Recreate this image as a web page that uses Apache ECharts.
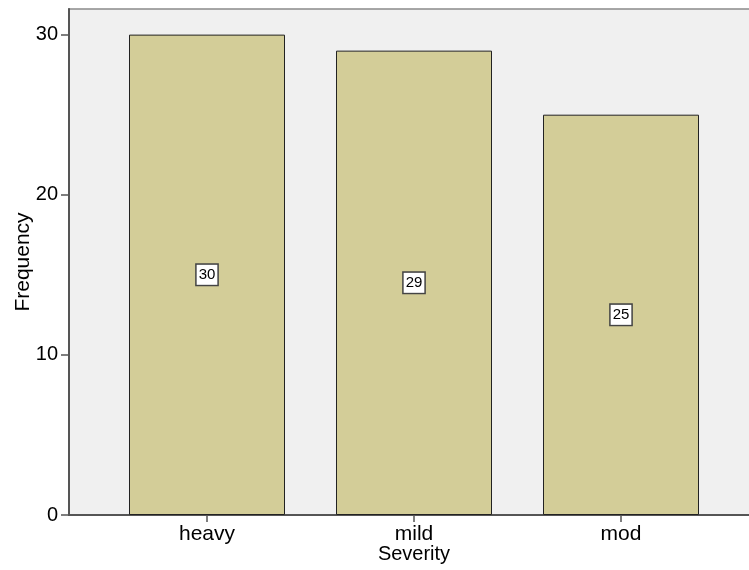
<!DOCTYPE html>
<html><head><meta charset="utf-8">
<script src="https://cdn.jsdelivr.net/npm/echarts@6/dist/echarts.min.js"></script>
<style>html,body{margin:0;padding:0;background:#fff}#c{width:749px;height:570px}</style>
</head><body><div id="c"></div>
<script>
const categories = ['heavy', 'mild', 'mod'];
const frequency = [30, 29, 25];
const yTicks = [0, 10, 20, 30];

const chart = echarts.init(document.getElementById('c'));
const font = 'Liberation Sans, Arial, sans-serif';
const yMax = 31.6;
chart.setOption({
  animation: false,
  grid: [
    {left: 69, right: -10, top: 9, bottom: 55, show: true, backgroundColor: '#f0f0f0', borderColor: '#8a8a8a', borderWidth: 1.5, outerBoundsMode: 'none', containLabel: false},
    {left: 103.5, right: 24.5, top: 9, bottom: 55, outerBoundsMode: 'none', containLabel: false}
  ],
  xAxis: [
    {gridIndex: 0, type: 'value', min: 0, max: 1, axisLabel: {show: false}, axisTick: {show: false}, splitLine: {show: false},
     axisLine: {show: true, lineStyle: {color: '#555', width: 2}}},
    {gridIndex: 1, type: 'category', data: categories, boundaryGap: true,
     axisLine: {show: false},
     axisTick: {show: true, alignWithLabel: true, length: 7, lineStyle: {color: '#555', width: 1.5}},
     axisLabel: {color: '#000', fontSize: 21, fontFamily: font, margin: 9},
     name: 'Severity', nameLocation: 'middle', nameGap: 29, nameMoveOverlap: false,
     nameTextStyle: {color: '#000', fontSize: 20, fontFamily: font}}
  ],
  yAxis: [
    {gridIndex: 0, type: 'value', min: 0, max: yMax,
     axisLine: {show: true, lineStyle: {color: '#555', width: 2}},
     axisTick: {show: true, length: 8, customValues: yTicks, lineStyle: {color: '#555', width: 1.5}},
     axisLabel: {color: '#000', fontSize: 20, fontFamily: font, margin: 11, customValues: yTicks},
     splitLine: {show: false},
     name: 'Frequency', nameLocation: 'middle', nameGap: 35, nameRotate: 90, nameMoveOverlap: false,
     nameTextStyle: {color: '#000', fontSize: 21, fontFamily: font}},
    {gridIndex: 1, type: 'value', min: 0, max: yMax, show: false}
  ],
  series: [{
    type: 'bar', xAxisIndex: 1, yAxisIndex: 1, data: frequency, barWidth: 156,
    itemStyle: {color: '#d3cd98', borderColor: '#222', borderWidth: 1},
    label: {show: true, position: 'inside', color: '#000', fontSize: 15, fontFamily: font,
      backgroundColor: '#fff', borderColor: '#444', borderWidth: 1.5, padding: [3, 2, 2, 2]}
  }]
});
</script></body></html>
